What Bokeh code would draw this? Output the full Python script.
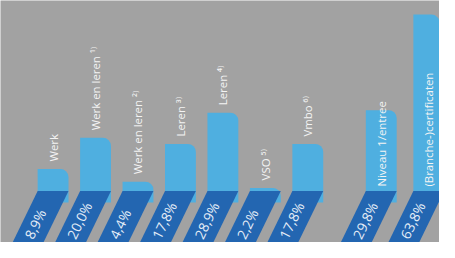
import numpy as np
from bokeh.plotting import figure
from bokeh.models import Range1d, ColumnDataSource
from bokeh.core.properties import value
from bokeh.embed import file_html
from bokeh.resources import INLINE

# ---- data ----
labels = ["Werk", "Werk en leren", "Werk en leren", "Leren", "Leren", "VSO", "Vmbo",
          "Niveau 1/entree", "(Branche-)certificaten"]
notes = ["", "1)", "2)", "3)", "4)", "5)", "6)", "", ""]
values = [8.9, 20.0, 4.4, 17.8, 28.9, 2.2, 17.8, 29.8, 63.8]
pct_labels = ["8,9%", "20,0%", "4,4%", "17,8%", "28,9%", "2,2%", "17,8%", "29,8%", "63,8%"]
group = [1, 1, 1, 1, 1, 1, 1, 2, 2]

# ---- styling ----
BG = "#a2a2a2"
LIGHT = "#4fafe0"
DARK = "#2366b1"
FONT = "Open Sans"

sup = {"1": "\u00b9", "2": "\u00b2", "3": "\u00b3", "4": "\u2074", "5": "\u2075", "6": "\u2076", ")": "\u207e"}
def supify(s):
    return "".join(sup.get(c, c) for c in s)

idx = np.arange(len(values))
grp = np.array(group)
xs = np.where(grp == 1, idx, 7.73 + (idx - 7) * 1.12)
vals = np.array(values, dtype=float)

p = figure(width=439, height=242, output_backend="svg", toolbar_location=None,
           x_range=Range1d(-1.2386, 9.102), y_range=Range1d(-17.2, 68.8),
           min_border=0, background_fill_color=BG, border_fill_color=BG,
           outline_line_color=None)
p.axis.visible = False
p.grid.visible = False

BW = 0.727
p.vbar(x=xs, top=vals, bottom=-3, width=BW, fill_color=LIGHT, line_color=None,
       border_radius=(0, 8, 0, 0))

# slanted bases
ytop = 1.13
ybot = -22.0
slope = 0.03223  # slots per percent unit
dx = slope * (ytop - ybot)
px_list, py_list = [], []
for c in xs:
    l, r = c - BW / 2, c + BW / 2
    px_list.append([l, r, r - dx, l - dx])
    py_list.append([ytop, ytop, ybot, ybot])
p.patches(px_list, py_list, fill_color=DARK, line_color=None)

# percentage labels along the slant
ya = -15.53
xa = xs - slope * (ytop - ya) - 0.045
p.text(x=xa, y=[ya] * len(xs), text=pct_labels, angle=np.deg2rad(64.07),
       text_align="left", text_baseline="middle", text_color="#e6eef8",
       text_font=value(FONT), text_font_size="13.8px")

# category labels (vertical)
full = [l + (" " + supify(n) if n else "") for l, n in zip(labels, notes)]
ly = np.where(grp == 1, vals, 0.0) + 2.67
p.text(x=xs, y=ly, text=full, angle=np.pi / 2, text_align="left",
       text_baseline="middle", text_color="#f4f4f4",
       text_font=value(FONT), text_font_size="11.4px")

open("out.html", "w").write(file_html(p, INLINE))
